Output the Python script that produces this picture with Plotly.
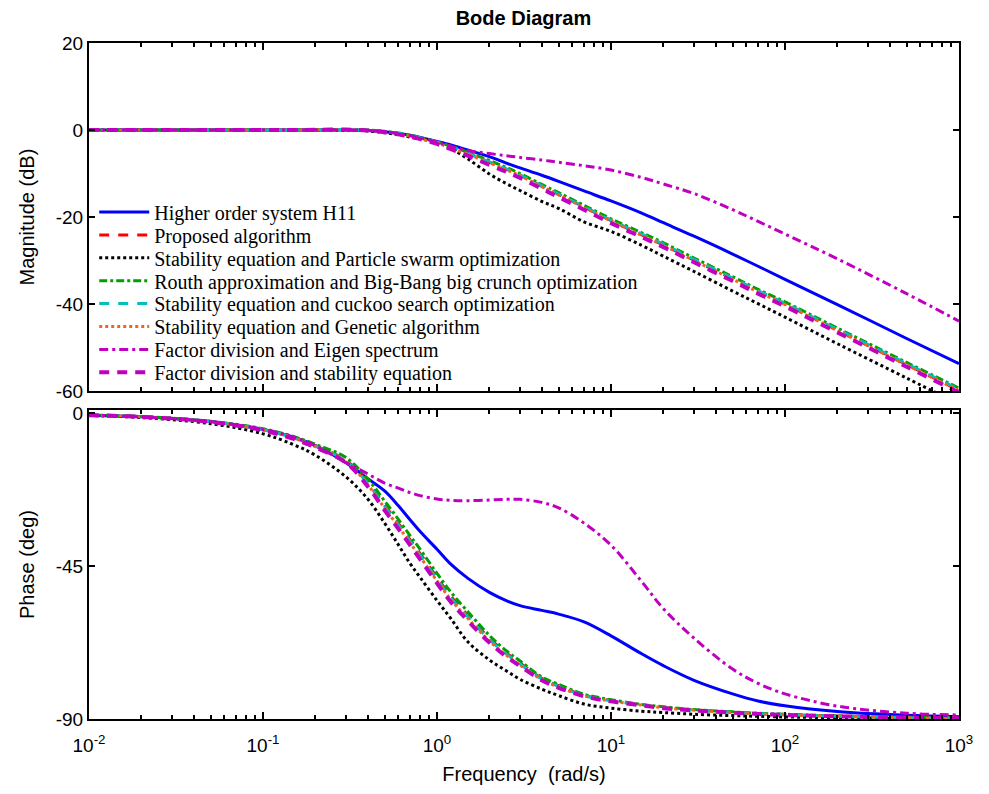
import plotly.graph_objects as go

# ---------------- data ----------------
freq = [0.01, 0.02, 0.05, 0.1, 0.15, 0.2, 0.3, 0.4, 0.5, 0.6, 0.7, 0.8,
        1, 1.2, 1.5, 2, 2.5, 3, 4, 5, 7, 10, 15, 20, 30, 50, 70, 100, 200, 500, 1000]

names = [
    "Higher order system H11",
    "Proposed algorithm",
    "Stability equation and Particle swarm optimization",
    "Routh approximation and Big-Bang big crunch optimization",
    "Stability equation and cuckoo search optimization",
    "Stability equation and Genetic algorithm",
    "Factor division and Eigen spectrum",
    "Factor division and stability equation",
]

# magnitude (dB)
mag_h11 = [0, 0, 0, 0, 0, 0, 0, -0.1, -0.4, -0.8, -1.2, -1.7,
           -2.6, -3.4, -4.6, -6.1, -7.6, -8.7, -10.4, -11.8, -14.0, -16.3, -19.1, -21.3,
           -24.4, -28.5, -31.3, -34.3, -40.1, -47.9, -53.7]
mag_prop = [0, 0, 0, 0, 0, 0.05, 0.1, -0.05, -0.4, -0.8, -1.3, -1.9,
            -2.9, -4.0, -5.4, -7.4, -9.0, -10.4, -12.9, -14.8, -17.7, -20.8, -24.1, -26.4,
            -29.9, -34.2, -37.1, -40.0, -46.0, -53.9, -59.8]
mag_pso = [0, 0, 0, 0, 0, 0, 0, -0.2, -0.6, -1.1, -1.6, -2.0,
           -2.8, -4.2, -6.6, -10.1, -12.3, -13.9, -16.4, -18.0, -21.1, -23.3, -26.5, -29.0,
           -32.5, -37.0, -39.9, -43.0, -49.1, -57.0, -63.0]
mag_bbbc = [0, 0, 0, 0, 0, 0.05, 0.1, 0, -0.3, -0.7, -1.2, -1.7,
            -2.7, -3.7, -5.1, -7.0, -8.6, -10.0, -12.5, -14.4, -17.3, -20.4, -23.6, -25.9,
            -29.4, -33.7, -36.6, -39.5, -45.5, -53.4, -59.3]
mag_cs = [0, 0, 0, 0, 0, 0.05, 0.1, -0.05, -0.35, -0.75, -1.25, -1.8,
          -2.8, -3.9, -5.3, -7.3, -8.9, -10.3, -12.8, -14.7, -17.6, -20.7, -23.9, -26.2,
          -29.7, -34.0, -36.9, -39.8, -45.8, -53.7, -59.6]
mag_ga = [0, 0, 0, 0, 0, 0.05, 0.1, -0.05, -0.4, -0.9, -1.4, -2.0,
          -3.0, -4.1, -5.6, -7.5, -9.1, -10.5, -13.0, -14.9, -17.8, -20.9, -24.2, -26.5,
          -30.0, -34.3, -37.2, -40.1, -46.1, -54.0, -59.9]
mag_eig = [0, 0, 0, 0, 0, 0, 0, -0.1, -0.4, -0.8, -1.3, -1.8,
           -2.8, -3.7, -4.7, -5.4, -5.9, -6.3, -6.9, -7.4, -8.2, -9.2, -10.9, -12.4,
           -14.6, -18.3, -21.0, -23.9, -29.6, -37.6, -43.9]
mag_fdse = [0, 0, 0, 0, 0, 0.05, 0.1, -0.1, -0.5, -1.0, -1.5, -2.1,
            -3.2, -4.4, -5.9, -8.0, -9.6, -11.0, -13.5, -15.4, -18.3, -21.4, -24.6, -26.9,
            -30.4, -34.7, -37.6, -40.5, -46.5, -54.4, -60.3]

# phase (deg)
ph_h11 = [-0.5, -1, -2.4, -4.7, -7, -9.5, -14.5, -19.2, -22.8, -27.2, -31.3, -34.8,
          -40.0, -44.4, -48.5, -52.7, -55.1, -56.6, -58.0, -59.1, -61.4, -65.5, -70.8, -74.3,
          -78.6, -82.6, -84.7, -86.1, -87.8, -88.9, -89.3]
ph_prop = [-0.45, -0.95, -2.4, -4.7, -7.1, -9.5, -13.8, -20.3, -27.0, -32.4, -37.2, -41.3,
           -48.3, -53.8, -59.4, -66.2, -70.5, -73.5, -78.0, -80.2, -83.0, -84.5, -85.8, -86.6,
           -87.3, -88.0, -88.4, -88.7, -89.1, -89.5, -89.7]
ph_pso = [-0.6, -1.2, -3.0, -6.0, -9.2, -12.3, -18.7, -25.2, -32.3, -38.7, -44.2, -48.3,
          -55.1, -60.4, -67.2, -72.6, -75.8, -78.3, -81.2, -83.1, -85.6, -86.8, -87.7, -88.1,
          -88.6, -89.0, -89.2, -89.4, -89.6, -89.8, -89.9]
ph_bbbc = [-0.45, -0.9, -2.3, -4.5, -6.8, -9.1, -13.0, -19.3, -25.8, -31.2, -36.0, -40.0,
           -47.1, -52.6, -58.3, -65.4, -69.9, -72.9, -77.6, -79.8, -82.7, -84.3, -85.7, -86.4,
           -87.2, -87.9, -88.3, -88.6, -89.1, -89.5, -89.7]
ph_cs = [-0.45, -0.95, -2.4, -4.8, -7.2, -9.6, -14.0, -20.6, -27.4, -32.8, -37.6, -41.7,
         -48.8, -54.3, -59.8, -66.6, -70.8, -73.8, -78.2, -80.4, -83.1, -84.6, -85.9, -86.7,
         -87.4, -88.0, -88.4, -88.7, -89.2, -89.6, -89.8]
ph_ga = [-0.45, -1.0, -2.45, -4.9, -7.3, -9.8, -14.2, -21.0, -27.9, -33.3, -38.1, -42.2,
         -49.3, -54.8, -60.3, -67.0, -71.2, -74.1, -78.4, -80.6, -83.2, -84.7, -85.9, -86.7,
         -87.4, -88.1, -88.5, -88.8, -89.2, -89.6, -89.8]
ph_eig = [-0.5, -1, -2.4, -4.7, -7, -9.5, -14.5, -17.8, -20.5, -22.0, -23.3, -24.2,
          -25.2, -25.6, -25.7, -25.5, -25.3, -25.3, -26.2, -27.8, -32.3, -38.8, -49.5, -57.5,
          -66.2, -75.3, -79.5, -82.6, -86.2, -88.3, -88.8]
ph_fdse = [-0.5, -1, -2.5, -5.0, -7.5, -10.0, -14.5, -21.5, -28.5, -34.0, -38.8, -43.0,
           -50.0, -55.5, -61.0, -67.5, -71.6, -74.4, -78.6, -80.8, -83.3, -84.8, -86.0, -86.8,
           -87.5, -88.1, -88.5, -88.8, -89.2, -89.6, -89.8]

mags = [mag_h11, mag_prop, mag_pso, mag_bbbc, mag_cs, mag_ga, mag_eig, mag_fdse]
phases = [ph_h11, ph_prop, ph_pso, ph_bbbc, ph_cs, ph_ga, ph_eig, ph_fdse]

mag_ticks = [-60, -40, -20, 0, 20]
phase_ticks = [-90, -45, 0]
x_tickvals = [0.01, 0.1, 1, 10, 100, 1000]
x_ticktext = ["10<sup>-2</sup>", "10<sup>-1</sup>", "10<sup>0</sup>",
              "10<sup>1</sup>", "10<sup>2</sup>", "10<sup>3</sup>"]

# ---------------- styles ----------------
styles = [
    dict(color="#0000FF", width=3, dash="solid"),
    dict(color="#FF0000", width=3, dash="10px,9px"),
    dict(color="#000000", width=3, dash="3px,3px"),
    dict(color="#00A000", width=3, dash="8px,3px,3px,3px"),
    dict(color="#00BFBF", width=3, dash="10px,9px"),
    dict(color="#F0641E", width=3, dash="3px,3px"),
    dict(color="#C000C0", width=3, dash="9px,4px,3px,4px"),
    dict(color="#C000C0", width=4, dash="10px,8px"),
]

minor_x = [m * 10 ** e for e in range(-2, 3) for m in range(2, 10)]

fig = go.Figure()
for i in range(len(names)):
    fig.add_trace(go.Scatter(x=freq, y=mags[i], mode="lines", name=names[i],
                             line=dict(shape="spline", smoothing=1.0, **styles[i]),
                             xaxis="x2", yaxis="y2", showlegend=True,
                             legend="legend" if i == 0 else "legend%d" % (i + 1)))
for i in range(len(names)):
    fig.add_trace(go.Scatter(x=freq, y=phases[i], mode="lines", name=names[i],
                             line=dict(shape="spline", smoothing=1.0, **styles[i]),
                             xaxis="x", yaxis="y", showlegend=False))

sans = "Liberation Sans, Arial, sans-serif"
tickfont = dict(family=sans, size=19, color="black")
axis_common = dict(showline=True, linecolor="black", linewidth=2, mirror="allticks",
                   ticks="inside", tickcolor="black", showgrid=False, zeroline=False)

# one legend box per entry so the row pitch matches the reference
legend_boxes = {}
row_top, row_pitch = 212.0, 22.9
for i in range(len(names)):
    key = "legend" if i == 0 else "legend%d" % (i + 1)
    legend_boxes[key] = dict(
        x=0.006, y=(719 - (row_top + row_pitch * i)) / 676.0,
        xanchor="left", yanchor="middle",
        bgcolor="rgba(0,0,0,0)", borderwidth=0,
        font=dict(family="Liberation Serif, Times New Roman, serif", size=20, color="black"),
        itemwidth=50,
    )

fig.update_layout(
    width=989, height=794,
    margin=dict(l=89, r=30, t=43, b=75),
    paper_bgcolor="white", plot_bgcolor="white",
    title=dict(text="<b>Bode Diagram</b>", x=0.5293, xanchor="center", y=0.977, yanchor="middle",
               font=dict(family=sans, size=20, color="black")),
    xaxis=dict(type="log", range=[-2, 3], domain=[0, 1], anchor="y",
               tickvals=x_tickvals, ticktext=x_ticktext, ticklen=7, tickwidth=1.5,
               tickfont=tickfont, ticklabelstandoff=8,
               minor=dict(tickvals=minor_x, ticks="inside", ticklen=4, tickcolor="black", showgrid=False),
               title=dict(text="Frequency  (rad/s)", standoff=12,
                          font=dict(family=sans, size=20, color="black")),
               **axis_common),
    yaxis=dict(range=[-90, 1], domain=[0, 0.457], anchor="x",
               tickvals=phase_ticks, ticktext=[str(v) for v in phase_ticks], ticklen=6, tickwidth=1.5,
               tickfont=tickfont,
               title=dict(text="Phase (deg)", standoff=16,
                          font=dict(family=sans, size=20, color="black")),
               **axis_common),
    xaxis2=dict(type="log", range=[-2, 3], domain=[0, 1], anchor="y2",
                tickvals=x_tickvals, showticklabels=False, ticklen=7, tickwidth=1.5,
                minor=dict(tickvals=minor_x, ticks="inside", ticklen=4, tickcolor="black", showgrid=False),
                **axis_common),
    yaxis2=dict(range=[-60, 20], domain=[0.485, 1], anchor="x2",
                tickvals=mag_ticks, ticktext=[str(v) for v in mag_ticks], ticklen=6, tickwidth=1.5,
                tickfont=tickfont,
                title=dict(text="Magnitude (dB)", standoff=16,
                           font=dict(family=sans, size=20, color="black")),
                **axis_common),
    **legend_boxes,
)

fig.write_html("out.html")
